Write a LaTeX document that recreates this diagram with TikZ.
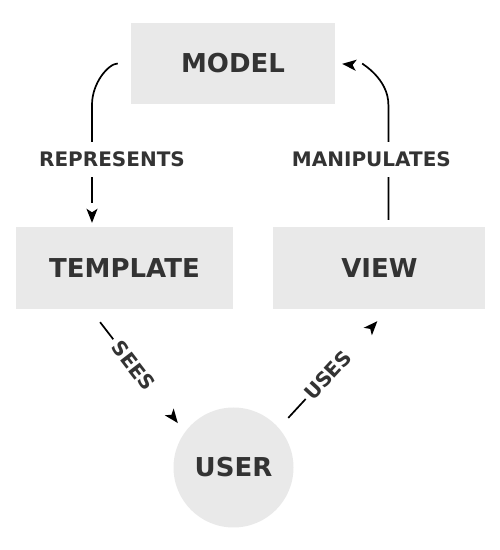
\documentclass[tikz,border=0pt]{standalone}
\usepackage{fontspec}
\setmainfont{DejaVu Sans}
\usepackage{tikz}
\usetikzlibrary{arrows.meta, decorations.markings, positioning}
\definecolor{boxgray}{HTML}{E9E9E9}
\definecolor{textgray}{HTML}{333333}
\newcommand{\titlefont}{\fontsize{26}{30}\selectfont\bfseries}
\newcommand{\labelfont}{\fontsize{20}{24}\selectfont\bfseries}
\tikzstyle{box}=[fill=boxgray, text=textgray, font=\titlefont, inner sep=0pt, minimum height=82pt]
\tikzstyle{actor}=[circle, fill=boxgray, text=textgray, font=\titlefont, inner sep=0pt, minimum size=120pt]
% line stops short of its tip, the tip sits #1 before the end
\tikzset{flow/.style={draw, line width=1.7pt, shorten >=#1+20pt,
    postaction={decorate, decoration={markings,
      mark=at position -#1 with {\arrow{Stealth[length=14pt, width=11pt, inset=3.5pt]}}}}}}
\tikzstyle{verb}=[fill=white, text=textgray, font=\labelfont, inner sep=10pt]
\tikzstyle{slopedverb}=[verb, sloped, anchor=west, inner xsep=5pt, text width=78pt, align=left]

\begin{document}
\begin{tikzpicture}[x=1pt, y=1pt]
    \useasboundingbox (0,0) rectangle (500,550);
    \node[box, minimum width=204pt, minimum height=81pt] (model) at (233,486.5) {MODEL};
    \node[box, minimum width=217pt] (template) at (124.5,282) {TEMPLATE};
    \node[box, minimum width=212pt] (view) [right=40pt of template] {VIEW};
    \node[actor] (user) at (233.5,82.5) {USER};

    \coordinate (tl) at ([xshift=-32.5pt]template.north);
    \coordinate (tlbend) at ([yshift=122pt]tl);
    \coordinate (tr) at ([xshift=9pt]view.north);
    \coordinate (trbend) at ([yshift=122pt]tr);

    \draw[flow=4pt, shorten <=13pt] (model.west) to[out=180, in=90] (tlbend)
      -- node[verb, xshift=20pt, pos=0.45] {REPRESENTS} (tl);
    \draw[flow=7pt, shorten <=7pt] (tr)
      -- node[verb, xshift=-17pt, pos=0.55] {MANIPULATES} (trbend)
      to[out=90, in=0] (model.east);
    \draw[flow=11.4pt, shorten <=16.4pt] ([xshift=-34.4pt]template.south)
      -- node[slopedverb, pos=0.24] {SEES} (user.144.7);
    \draw[flow=16.3pt, shorten <=13.7pt] (user.41)
      -- node[slopedverb, inner xsep=3pt, text width=81pt, pos=0.24] {USES} ([xshift=9pt]view.south);
\end{tikzpicture}
\end{document}
